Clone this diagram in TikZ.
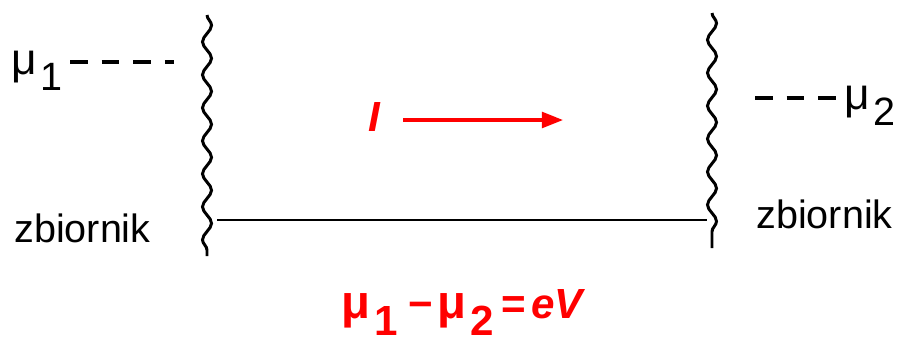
\documentclass[tikz,border=0pt]{standalone}
\usepackage{fontspec}
\setmainfont{Liberation Sans}
\usetikzlibrary{positioning,decorations.pathmorphing,arrows.meta}

% mu a bit large, and a digit set low, as in the drawing
\newcommand{\bigmu}{\scalebox{1.12}{μ}}
\newcommand{\lowdigit}[1]{\hspace{0.1em}\raisebox{-0.42em}{#1}}

\begin{document}
\begin{tikzpicture}[
    x=0.02cm, y=-0.02cm,
    wall/.style = {draw, line width=1.7pt, decorate, decoration={snake, segment length=0.66cm, amplitude=0.09cm}},
    level/.style = {draw, line width=2.3pt, dash pattern=on 10pt off 8pt},
    tag/.style = {inner sep=0pt, anchor=base west, font=\fontsize{22.5}{26}\selectfont},
    redtag/.style = {inner sep=0pt, anchor=base west, text=red, font=\fontsize{24}{28}\selectfont\bfseries},
    current/.style = {draw=red, line width=1.8pt, -{Triangle[length=12pt, width=9pt]}}
]
    \useasboundingbox (0,0) rectangle (900,343);

    % Reservoir walls
    \coordinate (lwtop) at (207,15);
    \coordinate (lwbot) at (207,256);
    \coordinate (rwtop) at (712,13);
    \coordinate (rwbot) at (712,248);
    \path [wall] (lwtop) -- (lwbot);
    \path [wall] (rwtop) -- (rwbot);

    % Wire
    \coordinate (wleft) at (217,220);
    \coordinate (wright) at (707,220);
    \draw [line width=1.5pt] (wleft) -- (wright);

    % Levels
    \node [tag] (mu1) at (11,74) {\bigmu\lowdigit{1}};
    \coordinate (l1a) at (70,62);
    \coordinate (l1b) at (174,62);
    \path [level] (l1a) -- (l1b);

    \coordinate (l2a) at (755,98);
    \coordinate (l2b) at (838,98);
    \path [level] (l2a) -- (l2b);
    \node [tag] (mu2) at (844,109) {\bigmu\lowdigit{2}};

    \node [tag] (zleft) at (14,242) {zbiornik};
    \node [tag] (zright) at (756,228) {zbiornik};

    % Current
    \node [redtag] (cur) at (368,131) {\itshape I};
    \coordinate (curtip) at (563,120);
    \draw [current] (403,120) -- (curtip);

    % Bias
    \node [redtag] (bias) at (341,318) {\bigmu\lowdigit{1}\hspace{0.25em}−\hspace{0.1em}\bigmu\lowdigit{2}\hspace{0.18em}=\hspace{0.12em}\textit{eV}};
\end{tikzpicture}
\end{document}
